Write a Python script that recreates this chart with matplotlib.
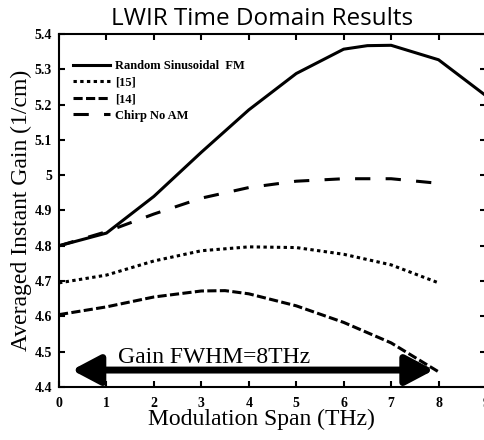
import matplotlib
matplotlib.use('Agg')
import matplotlib.pyplot as plt
import matplotlib.ticker as ticker

# data
x_rsfm = [0, 1, 2, 3, 4, 5, 6, 6.5, 7, 8, 9]
y_rsfm = [4.800, 4.836, 4.940, 5.065, 5.185, 5.288, 5.357, 5.367, 5.368, 5.327, 5.225]

x_ref = [0, 1, 2, 3, 4, 5, 6, 7, 8]
y_15 = [4.695, 4.717, 4.757, 4.786, 4.797, 4.795, 4.776, 4.746, 4.695]
y_chirp = [4.800, 4.840, 4.890, 4.935, 4.965, 4.983, 4.990, 4.990, 4.977]

x_14 = [0, 1, 2, 3, 3.5, 4, 5, 6, 7, 8]
y_14 = [4.605, 4.627, 4.655, 4.672, 4.673, 4.664, 4.630, 4.583, 4.525, 4.443]

labels = ['Random Sinusoidal  FM', '[15]', '[14]', 'Chirp No AM']
fwhm_span = (0.27, 7.9)
fwhm_level = 4.448

W, H = 485, 440
fig = plt.figure(figsize=(W / 100, H / 100), dpi=100)
ax = fig.add_axes([59 / W, 1 - 387 / H, 427 / W, 353 / H])

lw = 2.2
ax.plot(x_rsfm, y_rsfm, color='black', lw=lw, label=labels[0])
ax.plot(x_ref, y_15, color='black', lw=lw, dashes=(1.1, 1.1), dash_capstyle='butt', label=labels[1])
ax.plot(x_14, y_14, color='black', lw=lw, dashes=(3, 1.1), label=labels[2])
ax.plot(x_ref, y_chirp, color='black', lw=lw, dashes=(5, 5), label=labels[3])

# double arrow for the gain FWHM
ax.annotate('', xy=(fwhm_span[1], fwhm_level), xytext=(fwhm_span[0], fwhm_level),
            arrowprops=dict(arrowstyle='<|-|>,head_length=0.85,head_width=0.45',
                            lw=5, color='black', mutation_scale=20,
                            shrinkA=0, shrinkB=0))
ax.text(1.25, 4.468, 'Gain FWHM=8THz', family='Liberation Serif', fontsize=17,
        va='baseline', ha='left')

ax.set_xlim(0, 9)
ax.set_ylim(4.4, 5.4)
ax.set_xticks(range(0, 10))
ax.set_yticks([4.4 + 0.1 * i for i in range(11)])
ax.yaxis.set_major_formatter(ticker.FuncFormatter(lambda v, pos: '%g' % round(v, 2)))
ax.tick_params(direction='in', length=4, width=1.5, top=True, right=True,
               labelsize=10)
ax.tick_params(axis='x', pad=7)
ax.tick_params(axis='y', pad=5)
for lab in ax.get_xticklabels() + ax.get_yticklabels():
    lab.set_family('Liberation Serif')
    lab.set_weight('bold')
for sp in ax.spines.values():
    sp.set_linewidth(1.5)

ax.set_xlabel('Modulation Span (THz)', family='Liberation Serif', fontsize=17)
ax.set_ylabel('Averaged Instant Gain (1/cm)', family='Liberation Serif', fontsize=17)
ax.xaxis.set_label_coords(0.475, -0.062)
ax.yaxis.set_label_coords(-0.064, 0.5)

ax.legend(loc='upper left', bbox_to_anchor=(14 / 427, 0.925), frameon=False,
          borderpad=0, borderaxespad=0, handlelength=3, handletextpad=0.4,
          labelspacing=0.35, prop={'family': 'Liberation Serif', 'weight': 'bold', 'size': 9})

fig.text(262 / W, 1 - 25 / H, 'LWIR Time Domain Results', family='Open Sans',
         fontsize=17.5, ha='center', va='baseline')

fig.savefig('out.png', dpi=100)
